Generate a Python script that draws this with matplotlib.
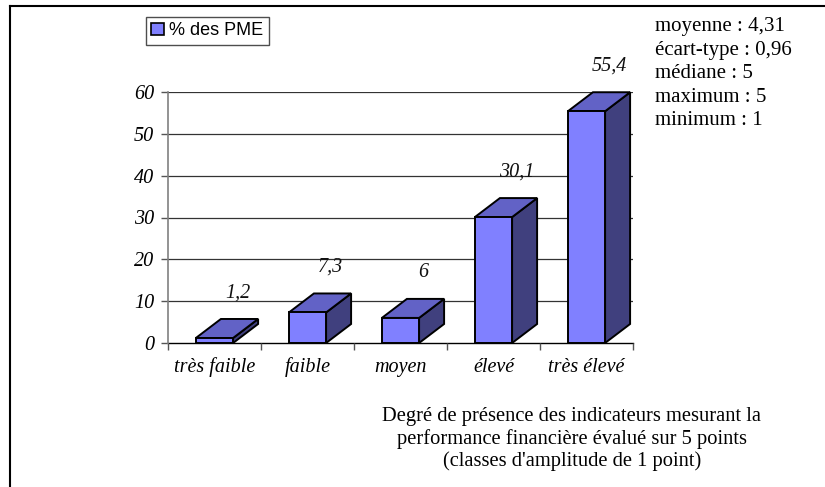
import numpy as np
import matplotlib
matplotlib.use('Agg')
from matplotlib import pyplot as plt
from matplotlib.patches import Polygon, Rectangle, Patch
from matplotlib.lines import Line2D

# DATA
categories = ['très faible', 'faible', 'moyen', 'élevé', 'très élevé']
pct_pme = [1.2, 7.3, 6.0, 30.1, 55.4]
y_ticks = [0, 10, 20, 30, 40, 50, 60]
legend_label = '% des PME'
stats_lines = ['moyenne : 4,31', 'écart-type : 0,96', 'médiane : 5', 'maximum : 5', 'minimum : 1']
caption = ("Degré de présence des indicateurs mesurant la\n"
           "performance financière évalué sur 5 points\n"
           "(classes d'amplitude de 1 point)")

# STYLE
W, H = 825, 487
FRONT = '#8080FF'
TOP = '#6262C6'
SIDE = '#40407E'
SERIF = 'Liberation Serif'
SANS = 'Liberation Sans'
FS = 14.5

BAR_W = 0.4
DX = 25 / 93.0      # depth offset in category units
DY = 19 / 4.183     # depth offset in value units


def fig_x(px):
    return px / W


def fig_y(px):
    return 1 - px / H


def main():
    fig = plt.figure(figsize=(W / 100, H / 100), dpi=100)

    # outer frame (left and top edges visible)
    fig.add_artist(Line2D([fig_x(10), fig_x(10)], [fig_y(6), 0], color='black', lw=1.5))
    fig.add_artist(Line2D([fig_x(10), 1], [fig_y(6), fig_y(6)], color='black', lw=1.5))

    ax = fig.add_axes([fig_x(168), fig_y(343), fig_x(633) - fig_x(168), (343 - 92) / H])
    ax.set_xlim(0, len(categories))
    ax.set_ylim(0, 60)

    # back wall grid
    for t in y_ticks[1:]:
        ax.plot([0, len(categories)], [t, t], color='#333333', lw=0.9, zorder=1)
    ax.plot([0, len(categories)], [0, 0], color='black', lw=1.0, zorder=1, clip_on=False)

    for i, v in enumerate(pct_pme):
        c = i + 0.5
        x0, x1 = c - BAR_W / 2, c + BAR_W / 2
        ax.add_patch(Polygon([(x1, 0), (x1 + DX, DY), (x1 + DX, v + DY), (x1, v)],
                             facecolor=SIDE, edgecolor='black', lw=1.4, zorder=3, clip_on=False,
                             joinstyle='miter'))
        ax.add_patch(Polygon([(x0, v), (x1, v), (x1 + DX, v + DY), (x0 + DX, v + DY)],
                             facecolor=TOP, edgecolor='black', lw=1.4, zorder=3, clip_on=False,
                             joinstyle='miter'))
        ax.add_patch(Rectangle((x0, 0), BAR_W, v, facecolor=FRONT, edgecolor='black',
                               lw=1.4, zorder=4, clip_on=False, joinstyle='miter'))
        label = ('%g' % v).replace('.', ',')
        ax.text(c + DX - 0.02, v + DY + 6.2, label, ha='center', va='center', fontsize=FS,
                family=SERIF, style='italic', color='#111111', zorder=5, clip_on=False)

    for side in ['top', 'right', 'bottom']:
        ax.spines[side].set_visible(False)
    ax.spines['left'].set_color('#808080')
    ax.spines['left'].set_linewidth(1.2)

    ax.set_yticks(y_ticks)
    ax.set_yticklabels([str(t) for t in y_ticks], family=SERIF, style='italic', fontsize=FS)
    ax.tick_params(axis='y', length=5, width=1, color='#555555', pad=5)

    ax.set_xticks(np.arange(len(categories) + 1))
    ax.set_xticklabels([])
    ax.tick_params(axis='x', length=5, width=1, color='#555555')
    for i, name in enumerate(categories):
        ax.text(i + 0.5, -5.8, name, ha='center', va='center', fontsize=FS,
                family=SERIF, style='italic', clip_on=False)

    # legend
    handle = Patch(facecolor=FRONT, edgecolor='black', lw=1.2)
    leg = fig.legend([handle], [legend_label], loc='upper left',
                     bbox_to_anchor=(fig_x(146), fig_y(17)), prop={'family': SANS, 'size': 13},
                     fancybox=False, frameon=True, handlelength=0.7, handleheight=0.7,
                     handletextpad=0.3, borderpad=0.3, borderaxespad=0)
    leg.get_frame().set_edgecolor('#222222')
    leg.get_frame().set_linewidth(1.0)

    # summary statistics
    fig.text(fig_x(655), fig_y(17), '\n'.join(stats_lines), ha='left', va='top',
             fontsize=15, family=SERIF, linespacing=1.33)

    # caption
    fig.text(fig_x(572), fig_y(439), caption, ha='center', va='center',
             fontsize=14.8, family=SERIF, linespacing=1.2)

    fig.savefig('out.png', dpi=100, facecolor='white')

    return


if __name__ == '__main__':
    main()
